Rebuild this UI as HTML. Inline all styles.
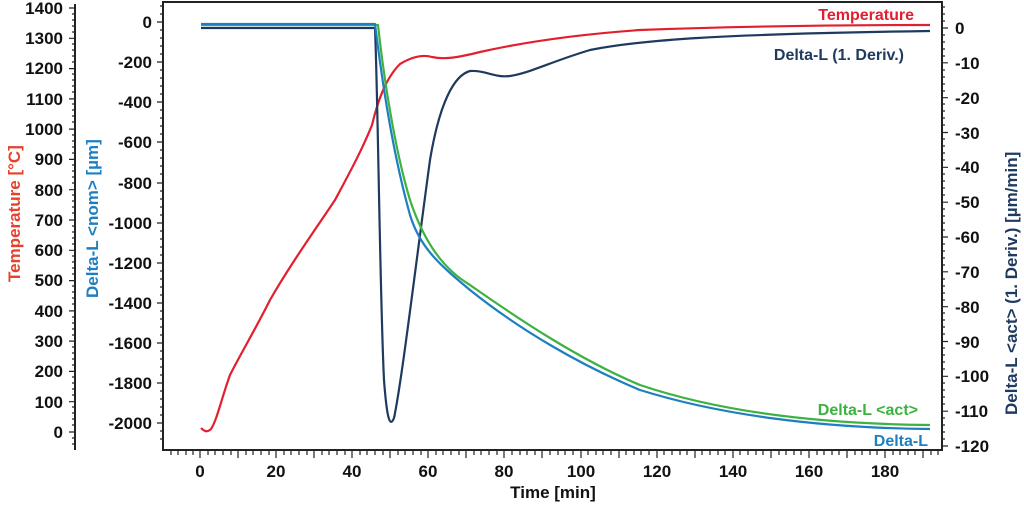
<!DOCTYPE html>
<html><head><meta charset="utf-8"><style>
html,body{margin:0;padding:0;background:#fff;}
svg text{font-family:"Liberation Sans",sans-serif;font-weight:bold;}
</style></head><body>
<svg width="1024" height="504" viewBox="0 0 1024 504" xmlns="http://www.w3.org/2000/svg">
<rect x="163" y="2" width="779" height="448" fill="none" stroke="#222" stroke-width="2"/>
<line x1="75" y1="4" x2="75" y2="450" stroke="#222" stroke-width="2"/>
<g stroke="#222" stroke-width="1.2">
<path d="M69 8H75M69 38.3H75M69 68.6H75M69 98.9H75M69 129.1H75M69 159.4H75M69 189.7H75M69 220H75M69 250.3H75M69 280.6H75M69 310.9H75M69 341.1H75M69 371.4H75M69 401.7H75M69 432H75"/>
<path d="M72 14H75M72 20H75M72 26H75M72 32H75M72 44H75M72 50H75M72 56H75M72 62H75M72 74H75M72 80H75M72 86H75M72 92H75M72 104H75M72 110H75M72 116H75M72 122H75M72 135H75M72 141H75M72 147H75M72 153H75M72 165H75M72 171H75M72 177H75M72 183H75M72 195H75M72 201H75M72 207H75M72 213H75M72 226H75M72 232H75M72 238H75M72 244H75M72 256H75M72 262H75M72 268H75M72 274H75M72 286H75M72 292H75M72 298H75M72 304H75M72 317H75M72 323H75M72 329H75M72 335H75M72 347H75M72 353H75M72 359H75M72 365H75M72 377H75M72 383H75M72 389H75M72 395H75M72 407H75M72 413H75M72 419H75M72 425H75M72 438H75M72 444H75"/>
</g>
<g font-size="17" fill="#111" text-anchor="end">
<text x="63" y="14">1400</text><text x="63" y="44">1300</text><text x="63" y="74">1200</text><text x="63" y="105">1100</text><text x="63" y="135">1000</text><text x="63" y="165">900</text><text x="63" y="196">800</text><text x="63" y="226">700</text><text x="63" y="256">600</text><text x="63" y="286">500</text><text x="63" y="317">400</text><text x="63" y="347">300</text><text x="63" y="377">200</text><text x="63" y="408">100</text><text x="63" y="438">0</text>
</g>
<text transform="translate(20,282) rotate(-90)" font-size="17" fill="#e8412b">Temperature [°C]</text>
<text transform="translate(98,298) rotate(-90)" font-size="17" fill="#1e7fc0">Delta-L &lt;nom&gt; [µm]</text>
<g stroke="#222" stroke-width="1.2">
<path d="M157 22H163M157 62H163M157 102H163M157 142H163M157 183H163M157 223H163M157 263H163M157 303H163M157 343H163M157 383H163M157 423H163"/>
<path d="M160 30H163M160 38H163M160 46H163M160 54H163M160 70H163M160 78H163M160 86H163M160 94H163M160 110H163M160 118H163M160 126H163M160 134H163M160 150H163M160 158H163M160 166H163M160 174H163M160 191H163M160 199H163M160 207H163M160 215H163M160 231H163M160 239H163M160 247H163M160 255H163M160 271H163M160 279H163M160 287H163M160 295H163M160 311H163M160 319H163M160 327H163M160 335H163M160 351H163M160 359H163M160 367H163M160 375H163M160 391H163M160 399H163M160 407H163M160 415H163M160 431H163M160 439H163M160 14H163M160 6H163"/>
</g>
<g font-size="17" fill="#111" text-anchor="end">
<text x="152" y="28">0</text><text x="152" y="68">-200</text><text x="152" y="108">-400</text><text x="152" y="148">-600</text><text x="152" y="189">-800</text><text x="152" y="229">-1000</text><text x="152" y="269">-1200</text><text x="152" y="309">-1400</text><text x="152" y="349">-1600</text><text x="152" y="389">-1800</text><text x="152" y="429">-2000</text>
</g>
<g stroke="#222" stroke-width="1.2">
<path d="M942 28H948M942 62.8H948M942 97.7H948M942 132.5H948M942 167.3H948M942 202.2H948M942 237H948M942 271.8H948M942 306.7H948M942 341.5H948M942 376.3H948M942 411.2H948M942 446H948"/>
<path d="M942 7H945M942 14H945M942 21H945M942 35H945M942 42H945M942 49H945M942 56H945M942 70H945M942 77H945M942 84H945M942 91H945M942 104H945M942 111H945M942 118H945M942 125H945M942 139H945M942 146H945M942 153H945M942 160H945M942 174H945M942 181H945M942 188H945M942 195H945M942 209H945M942 216H945M942 223H945M942 230H945M942 244H945M942 251H945M942 258H945M942 265H945M942 279H945M942 286H945M942 293H945M942 300H945M942 313H945M942 320H945M942 327H945M942 334H945M942 348H945M942 355H945M942 362H945M942 369H945M942 383H945M942 390H945M942 397H945M942 404H945M942 418H945M942 425H945M942 432H945M942 439H945"/>
</g>
<g font-size="17" fill="#111">
<text x="955" y="34">0</text><text x="955" y="69">-10</text><text x="955" y="104">-20</text><text x="955" y="139">-30</text><text x="955" y="173">-40</text><text x="955" y="208">-50</text><text x="955" y="243">-60</text><text x="955" y="278">-70</text><text x="955" y="313">-80</text><text x="955" y="348">-90</text><text x="955" y="382">-100</text><text x="955" y="417">-110</text><text x="955" y="452">-120</text>
</g>
<text transform="translate(1017,415) rotate(-90)" font-size="17" fill="#1f3a5f">Delta-L &lt;act&gt; (1. Deriv.) [µm/min]</text>
<g stroke="#222" stroke-width="1.2">
<path d="M200 450V458M238 450V458M276 450V458M314 450V458M352 450V458M390 450V458M428 450V458M466 450V458M504 450V458M542 450V458M581 450V458M619 450V458M657 450V458M695 450V458M733 450V458M771 450V458M809 450V458M847 450V458M885 450V458M923 450V458"/>
<path d="M171 450V455M178 450V455M186 450V455M193 450V455M208 450V455M215 450V455M223 450V455M231 450V455M246 450V455M253 450V455M261 450V455M269 450V455M284 450V455M291 450V455M299 450V455M307 450V455M322 450V455M329 450V455M337 450V455M345 450V455M360 450V455M367 450V455M375 450V455M383 450V455M398 450V455M405 450V455M413 450V455M421 450V455M436 450V455M443 450V455M451 450V455M459 450V455M474 450V455M481 450V455M489 450V455M497 450V455M512 450V455M520 450V455M527 450V455M535 450V455M550 450V455M558 450V455M565 450V455M573 450V455M588 450V455M596 450V455M603 450V455M611 450V455M626 450V455M634 450V455M641 450V455M649 450V455M664 450V455M672 450V455M680 450V455M687 450V455M702 450V455M710 450V455M718 450V455M725 450V455M740 450V455M748 450V455M756 450V455M763 450V455M779 450V455M786 450V455M794 450V455M801 450V455M817 450V455M824 450V455M832 450V455M839 450V455M855 450V455M862 450V455M870 450V455M877 450V455M893 450V455M900 450V455M908 450V455M915 450V455M931 450V455M938 450V455"/>
</g>
<g font-size="17" fill="#111" text-anchor="middle">
<text x="200" y="477">0</text><text x="276" y="477">20</text><text x="352" y="477">40</text><text x="428" y="477">60</text><text x="504" y="477">80</text><text x="581" y="477">100</text><text x="657" y="477">120</text><text x="733" y="477">140</text><text x="809" y="477">160</text><text x="885" y="477">180</text>
</g>
<text x="553" y="498" font-size="17" fill="#111" text-anchor="middle">Time [min]</text>
<g fill="none" stroke-width="2.2" stroke-linejoin="round">
<path stroke="#e0202e" d="M201 428C204 431,207 433,211 429C217 420,221 400,230 375C240 355,255 330,270 300C290 265,315 230,335 200C350 172,362 150,372 125C378 100,386 78,400 64C415 55,425 55,432 57C445 60,460 57,480 52C520 43,570 35,640 30C720 27,820 25,930 25"/>
<path stroke="#1f3a5f" d="M201 28H375C378 100,380 300,384 380C387 420,390 428,394 418C402 380,415 270,430 160C440 100,455 75,470 71C485 70,495 78,510 76C530 73,550 62,590 50C640 40,720 34,930 31"/>
<path stroke="#3db240" d="M201 25H378C384 80,395 150,410 200C425 245,445 270,470 285C520 320,580 360,640 385C720 412,820 424,930 425"/>
<path stroke="#1e7fc0" d="M201 24H375C382 80,392 150,410 215C420 248,440 265,470 290C520 330,580 365,640 390C720 415,820 428,930 429"/>
</g>
<g font-size="16">
<text x="914" y="20" fill="#e0202e" text-anchor="end">Temperature</text>
<text x="904" y="60" fill="#1f3a5f" text-anchor="end">Delta-L (1. Deriv.)</text>
<text x="918" y="415" fill="#3db240" text-anchor="end">Delta-L &lt;act&gt;</text>
<text x="928" y="446" fill="#1e7fc0" text-anchor="end">Delta-L</text>
</g>
</svg>
</body></html>
